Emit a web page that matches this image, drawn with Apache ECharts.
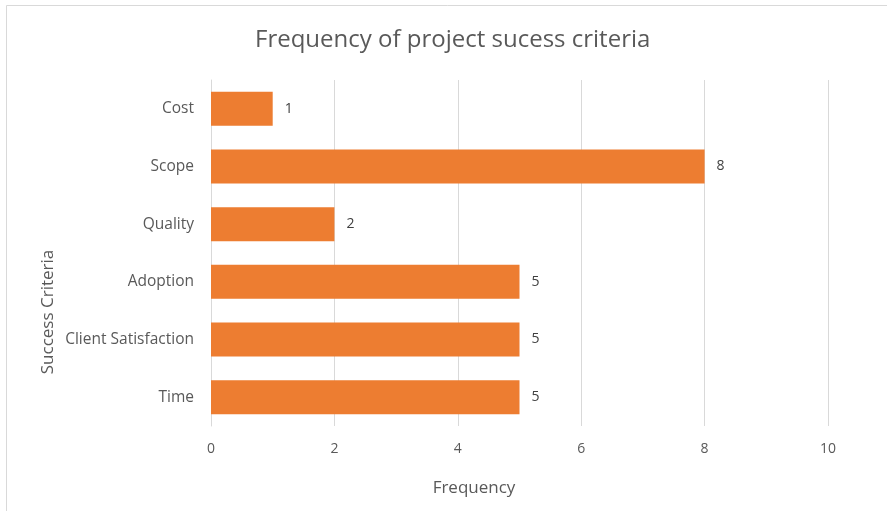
<!DOCTYPE html>
<html>
<head>
<meta charset="utf-8">
<script src="https://cdn.jsdelivr.net/npm/echarts@6/dist/echarts.min.js"></script>
<style>html,body{margin:0;padding:0;background:#fff;}#chart{width:887px;height:511px;}</style>
</head>
<body>
<div id="chart"></div>
<script>
var categories = ['Time', 'Client Satisfaction', 'Adoption', 'Quality', 'Scope', 'Cost'];
var frequency = [5, 5, 5, 2, 8, 1];
var xTicks = [0, 2, 4, 6, 8, 10];

var font = 'Open Sans';
var chart = echarts.init(document.getElementById('chart'), null, {renderer: 'canvas'});
chart.setOption({
  backgroundColor: '#ffffff',
  animation: false,
  title: {
    text: 'Frequency of project sucess criteria',
    left: 250,
    top: 23,
    textStyle: {fontFamily: font, fontSize: 24, fontWeight: 'normal', color: '#595959'}
  },
  grid: {left: 211, right: 59, top: 80, bottom: 85, containLabel: false},
  xAxis: {
    type: 'value',
    min: xTicks[0],
    max: xTicks[xTicks.length - 1],
    interval: 2,
    axisLine: {show: false},
    axisTick: {show: false},
    splitLine: {show: true, lineStyle: {color: '#D9D9D9', width: 1}},
    axisLabel: {margin: 16, fontFamily: font, fontSize: 14, color: '#595959'}
  },
  yAxis: {
    type: 'category',
    data: categories,
    axisLine: {show: true, lineStyle: {color: '#D9D9D9', width: 1}},
    axisTick: {show: false},
    axisLabel: {margin: 17, fontFamily: font, fontSize: 15.5, color: '#595959'}
  },
  series: [{
    type: 'bar',
    data: frequency,
    barWidth: 34,
    itemStyle: {color: '#ED7D31'},
    label: {show: true, position: 'right', distance: 12, fontFamily: font, fontSize: 14, color: '#404040'}
  }],
  graphic: [
    {type: 'rect', z: -1, shape: {x: 6.5, y: 5.5, width: 900, height: 520}, style: {fill: 'none', stroke: '#D9D9D9', lineWidth: 1}},
    {type: 'text', x: 474, y: 488, style: {text: 'Frequency', fontFamily: font, fontSize: 17, fill: '#595959', textAlign: 'center', textVerticalAlign: 'middle'}},
    {type: 'text', x: 48, y: 312, rotation: Math.PI / 2, style: {text: 'Success Criteria', fontFamily: font, fontSize: 17, fill: '#595959', textAlign: 'center', textVerticalAlign: 'middle'}}
  ]
});
</script>
</body>
</html>
